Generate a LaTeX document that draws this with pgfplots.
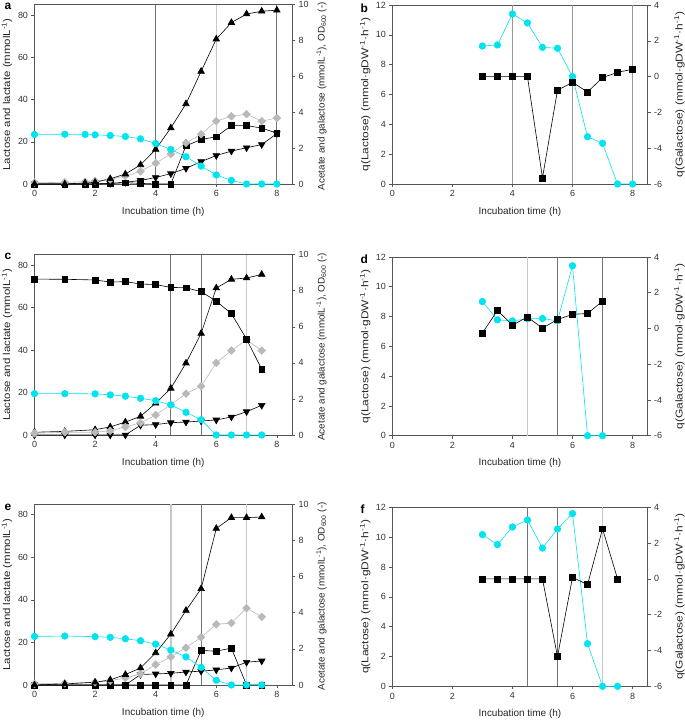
\documentclass[border=0pt]{standalone}
\usepackage{fontspec}
\setmainfont{Liberation Sans}
\usepackage{graphicx}
\usepackage{pgfplots}
\pgfplotsset{compat=1.18}
\definecolor{cy}{RGB}{0,228,240}
\definecolor{lg}{RGB}{185,185,185}
\definecolor{fr}{RGB}{85,85,85}
\definecolor{vdark}{RGB}{115,115,115}
\definecolor{vmid}{RGB}{150,150,150}
\definecolor{vlight}{RGB}{200,200,200}
\pgfplotsset{
  base/.style={scale only axis, anchor=north west, clip=false,
    tick align=outside, major tick length=3bp,
    axis line style={fr, line width=0.6bp},
    every tick/.style={fr, line width=0.6bp},
    tick label style={font=\fontsize{9}{10}\selectfont, text=black!80},
    label style={font=\fontsize{10}{12}\selectfont, text=black!85},
    /pgf/number format/assume math mode=true,
    xmin=0, xmax=8.5, xtick={0,2,4,6,8}},
  leftA/.style={base, width=257.5bp, ymin=0, ymax=85, ytick={0,20,40,60,80},
    ytick pos=left, xtick pos=bottom,
    xlabel={Incubation time (h)},
    xlabel style={at={(axis description cs:0.5,-0.155)}, anchor=center},
    ylabel={\scalebox{1.15}[1]{Lactose and lactate (mmolL\textsuperscript{-1})}},
    ylabel style={at={(axis description cs:-0.107,0.5)}, anchor=center}},
  leftB/.style={base, width=257.5bp, ymin=0, ymax=10, ytick={0,2,4,6,8,10},
    axis y line*=right, axis x line=none,
    ylabel={\scalebox{1.03}[1]{Acetate and galactose (mmolL\textsuperscript{-1}), OD\textsubscript{600} (-)}},
    ylabel style={at={(axis description cs:1.115,0.49)}, anchor=center, font=\fontsize{9.6}{11}\selectfont}},
  rightA/.style={base, width=255.3bp, ymin=0, ymax=12, ytick={0,2,...,12},
    ytick pos=left, xtick pos=bottom,
    xlabel={Incubation time (h)},
    xlabel style={at={(axis description cs:0.5,-0.155)}, anchor=center},
    ylabel={\scalebox{1.2}[1]{q(Lactose) (mmol·gDW\textsuperscript{-1}·h\textsuperscript{-1})}},
    ylabel style={at={(axis description cs:-0.106,0.5)}, anchor=center}},
  rightB/.style={base, width=255.3bp, ymin=-6, ymax=4, ytick={-6,-4,...,4},
    axis y line*=right, axis x line=none,
    ylabel={\scalebox{1.2}[1]{q(Galactose) (mmol·gDW\textsuperscript{-1}·h\textsuperscript{-1})}},
    ylabel style={at={(axis description cs:1.125,0.5)}, anchor=center}},
  cyS/.style={color=cy, line width=0.6bp, mark=*, mark size=3.3bp, mark options={fill=cy, draw=cy}},
  sqS/.style={color=black, line width=0.6bp, mark=square*, mark size=2.9bp, mark options={fill=black}},
  tuS/.style={color=black, line width=0.6bp, mark=triangle*, mark size=3.8bp, mark options={fill=black}},
  tdS/.style={color=black, line width=0.6bp, mark=triangle*, mark size=3.8bp, mark options={fill=black, rotate=180}},
  diS/.style={color=lg, line width=0.6bp, mark=square*, mark size=2.7bp, mark options={fill=lg, draw=lg, rotate=45}},
  vd/.style={vdark, line width=0.9bp, mark=none},
  vm/.style={vmid, line width=0.9bp, mark=none},
  vl/.style={vlight, line width=1.4bp, mark=none},
}
\begin{document}
\begin{tikzpicture}
\path[use as bounding box] (0,0) rectangle (685bp,-720bp);
% ---------------- panel a
\begin{axis}[leftA, at={(34.5bp,-4.7bp)}, height=179.3bp]
\addplot[vd] coordinates {(4,0) (4,85)};
\addplot[vl] coordinates {(6,0) (6,85)};
\addplot[vd] coordinates {(8,0) (8,85)};
\addplot[sqS] coordinates {(0,0) (1,0) (1.67,0) (2,0) (2.5,0.3) (3,0.6) (3.5,0.3) (4,0) (4.5,0) (5,18.1) (5.5,21.1) (6,22.4) (6.5,27.7) (7,27.7) (7.5,26.5) (8,24.1)};
\addplot[tdS] coordinates {(0,0) (1,0) (1.67,0) (2,0) (2.5,0.3) (3,0.8) (3.5,1.7) (4,3.1) (4.5,4.9) (5,7.4) (5.5,10.6) (6,13.5) (6.5,15.6) (7,17.2) (7.5,18.7) (8,23.9)};
\addplot[diS] coordinates {(0,0.6) (1,0.8) (1.67,1.1) (2,1.4) (2.5,2.2) (3,3.8) (3.5,6.0) (4,9.9) (4.5,14.2) (5,19.5) (5.5,23.6) (6,29.8) (6.5,32.1) (7,33.1) (7.5,29.8) (8,31.3)};
\addplot[tuS] coordinates {(0,0) (1,0) (1.67,0.5) (2,0.8) (2.5,2.5) (3,4.7) (3.5,9.1) (4,16.4) (4.5,26.6) (5,38.0) (5.5,53.4) (6,68.7) (6.5,76.5) (7,80.6) (7.5,81.9) (8,82.4)};
\addplot[cyS] coordinates {(0,23.5) (1,23.6) (1.67,23.5) (2,23.3) (2.5,23.0) (3,22.5) (3.5,21.4) (4,19.2) (4.5,16.4) (5,12.9) (5.5,8.5) (6,4.3) (6.5,1.7) (7,0) (7.5,0) (8,0)};
\end{axis}
\begin{axis}[leftB, at={(34.5bp,-4.7bp)}, height=179.3bp]
\end{axis}
% ---------------- panel b
\begin{axis}[rightA, at={(392.3bp,-5bp)}, height=179bp]
\addplot[vm] coordinates {(4,0) (4,12)};
\addplot[vm] coordinates {(6,0) (6,12)};
\addplot[vm] coordinates {(8,0) (8,12)};
\addplot[cyS] coordinates {(3,9.25) (3.5,9.32) (4,11.4) (4.5,10.8) (5,9.16) (5.5,9.1) (6,7.2) (6.5,3.17) (7,2.73) (7.5,0) (8,0)};
\end{axis}
\begin{axis}[rightB, at={(392.3bp,-5bp)}, height=179bp]
\addplot[sqS] coordinates {(3,0) (3.5,0) (4,0) (4.5,0) (5,-5.66) (5.5,-0.76) (6,-0.32) (6.5,-0.86) (7,-0.06) (7.5,0.24) (8,0.41)};
\end{axis}
% ---------------- panel c
\begin{axis}[leftA, at={(34.5bp,-254.7bp)}, height=180.3bp]
\addplot[vd] coordinates {(4.5,0) (4.5,85)};
\addplot[vd] coordinates {(5.5,0) (5.5,85)};
\addplot[vl] coordinates {(7,0) (7,85)};
\addplot[tdS] coordinates {(0,0) (1,0) (2,0) (2.5,0) (3,0) (3.5,4.6) (4,4.9) (4.5,5.8) (5,6.1) (5.5,6.6) (6,7.1) (6.5,8.5) (7,11.0) (7.5,14.0)};
\addplot[tuS] coordinates {(0,1.3) (1,1.7) (2,2.5) (2.5,3.8) (3,6.1) (3.5,8.8) (4,15.0) (4.5,22.0) (5,33.9) (5.5,47.9) (6,69.3) (6.5,73.4) (7,74.0) (7.5,75.7)};
\addplot[diS] coordinates {(0,0.8) (1,1.3) (2,1.3) (2.5,2.0) (3,3.8) (3.5,5.7) (4,9.4) (4.5,14.3) (5,19.5) (5.5,23.0) (6,34.0) (6.5,39.8) (7,44.9) (7.5,39.8)};
\addplot[sqS] coordinates {(0,73.5) (1,73.4) (2,73.1) (2.5,72.1) (3,72.3) (3.5,71.2) (4,70.9) (4.5,69.6) (5,69.4) (5.5,67.6) (6,63.1) (6.5,57.2) (7,45.2) (7.5,31.0)};
\addplot[cyS] coordinates {(0,19.5) (1,19.5) (2,19.4) (2.5,18.9) (3,18.3) (3.5,17.3) (4,16.2) (4.5,14.2) (5,10.7) (5.5,7.2) (6,0) (6.5,0) (7,0) (7.5,0)};
\end{axis}
\begin{axis}[leftB, at={(34.5bp,-254.7bp)}, height=180.3bp]
\end{axis}
% ---------------- panel d
\begin{axis}[rightA, at={(392.3bp,-257bp)}, height=178.7bp]
\addplot[vl] coordinates {(4.5,0) (4.5,12)};
\addplot[vd] coordinates {(5.5,0) (5.5,12)};
\addplot[vd] coordinates {(7,0) (7,12)};
\addplot[cyS] coordinates {(3,9.01) (3.5,7.78) (4,7.71) (4.5,7.85) (5,7.87) (5.5,7.71) (6,11.41) (6.5,0) (7,0)};
\end{axis}
\begin{axis}[rightB, at={(392.3bp,-257bp)}, height=178.7bp]
\addplot[sqS] coordinates {(3,-0.26) (3.5,1.01) (4,0.19) (4.5,0.64) (5,0.02) (5.5,0.50) (6,0.79) (6.5,0.84) (7,1.53)};
\end{axis}
% ---------------- panel e
\begin{axis}[leftA, at={(34.5bp,-504bp)}, height=181bp]
\addplot[vl] coordinates {(4.5,0) (4.5,85)};
\addplot[vd] coordinates {(5.5,0) (5.5,85)};
\addplot[vl] coordinates {(7,0) (7,85)};
\addplot[sqS] coordinates {(0,0) (1,0) (2,0) (2.5,0) (3,0) (3.5,0) (4,0) (4.5,0) (5,0) (5.5,16.2) (6,15.9) (6.5,17.3) (7,0) (7.5,0)};
\addplot[tdS] coordinates {(0,0) (1,0) (2,0) (2.5,0) (3,0) (3.5,4.9) (4,5.2) (4.5,5.5) (5,6.1) (5.5,6.5) (6,7.1) (6.5,8.0) (7,10.7) (7.5,11.3)};
\addplot[diS] coordinates {(0,0.5) (1,0.8) (2,1.3) (2.5,2.0) (3,3.3) (3.5,5.2) (4,9.6) (4.5,13.2) (5,17.5) (5.5,22.4) (6,28.5) (6.5,29.1) (7,36.1) (7.5,32.0)};
\addplot[tuS] coordinates {(0,0) (1,0.5) (2,1.3) (2.5,2.4) (3,4.9) (3.5,8.0) (4,15.1) (4.5,23.9) (5,35.0) (5.5,45.2) (6,73.5) (6.5,78.6) (7,78.6) (7.5,78.9)};
\addplot[cyS] coordinates {(0,22.8) (1,23.0) (2,22.7) (2.5,22.4) (3,21.7) (3.5,20.8) (4,19.2) (4.5,16.4) (5,13.2) (5.5,8.3) (6,2.2) (6.5,0) (7,0) (7.5,0)};
\end{axis}
\begin{axis}[leftB, at={(34.5bp,-504bp)}, height=181bp]
\end{axis}
% ---------------- panel f
\begin{axis}[rightA, at={(392.3bp,-507.3bp)}, height=179bp]
\addplot[vd] coordinates {(4.5,0) (4.5,12)};
\addplot[vd] coordinates {(5.5,0) (5.5,12)};
\addplot[vl] coordinates {(7,0) (7,12)};
\addplot[cyS] coordinates {(3,10.17) (3.5,9.5) (4,10.68) (4.5,11.15) (5,9.27) (5.5,10.55) (6,11.58) (6.5,2.86) (7,0) (7.5,0)};
\end{axis}
\begin{axis}[rightB, at={(392.3bp,-507.3bp)}, height=179bp]
\addplot[sqS] coordinates {(3,0) (3.5,0) (4,0) (4.5,0) (5,0) (5.5,-4.34) (6,0.09) (6.5,-0.32) (7,2.80) (7.5,0)};
\end{axis}
% panel letters
\node[anchor=north west, font=\bfseries\fontsize{12}{12}\selectfont] at (1bp,0bp) {a};
\node[anchor=north west, font=\bfseries\fontsize{12}{12}\selectfont] at (357bp,0bp) {b};
\node[anchor=north west, font=\bfseries\fontsize{12}{12}\selectfont] at (1bp,-250bp) {c};
\node[anchor=north west, font=\bfseries\fontsize{12}{12}\selectfont] at (357bp,-251bp) {d};
\node[anchor=north west, font=\bfseries\fontsize{12}{12}\selectfont] at (1bp,-501bp) {e};
\node[anchor=north west, font=\bfseries\fontsize{12}{12}\selectfont] at (357bp,-501bp) {f};
\end{tikzpicture}
\end{document}
